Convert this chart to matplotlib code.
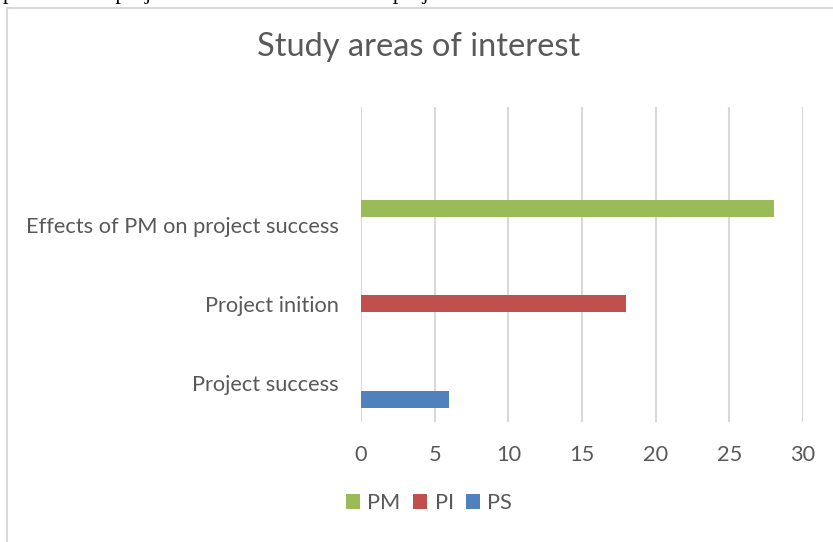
import matplotlib
matplotlib.use("Agg")
import matplotlib.pyplot as plt
from matplotlib.patches import Rectangle
import numpy as np

# categories bottom -> top (top slot is empty in the source chart)
categories = ["Project success", "Project inition", "Effects of PM on project success", ""]
series_names = ["PS", "PI", "PM"]
ps_values = [6, 0, 0, 0]
pi_values = [0, 18, 0, 0]
pm_values = [0, 0, 28, 0]
colors = ["#4F81BD", "#C0504D", "#9BBB59"]
x_ticks = [0, 5, 10, 15, 20, 25, 30]

W, H = 833, 542
fig = plt.figure(figsize=(W / 100, H / 100), dpi=100)
font = ["Lato", "DejaVu Sans"]
txt = "#595959"

# chart frame (extends past the right and bottom edges)
fig.patches.append(Rectangle((7 / W, -0.05), 1.1, 1 - 8 / H + 0.05, transform=fig.transFigure,
                             fill=False, edgecolor="#d9d9d9", linewidth=1.5))

# cut-off line of body text above the chart
fig.text(3 / W, 1 + 1.5 / H, "practices on project success in construction projects.",
         family="Liberation Serif", fontsize=16, color="black", va="baseline", ha="left")

ax = fig.add_axes([361 / W, 1 - 422 / H, (803 - 361) / W, (422 - 107) / H])

y = np.arange(len(categories))
h = 0.216
all_vals = [ps_values, pi_values, pm_values]
for i, (vals, name, c) in enumerate(zip(all_vals, series_names, colors)):
    ax.barh(y + (i - 1) * h, vals, height=h, color=c, label=name, zorder=3)

ax.set_xlim(0, 30)
ax.set_ylim(-0.5, len(categories) - 0.5)
ax.set_xticks(x_ticks)
ax.set_yticks(y)
ax.set_yticklabels(categories)
ax.xaxis.grid(True, color="#d9d9d9", linewidth=1.5, zorder=0)
ax.tick_params(length=0, labelsize=15.7, labelcolor=txt)
for lab in ax.get_xticklabels() + ax.get_yticklabels():
    lab.set_family(font)
ax.tick_params(axis="y", pad=16)
ax.tick_params(axis="x", pad=16.5)
for s in ax.spines.values():
    s.set_visible(False)

fig.text(419 / W, 1 - 47 / H, "Study areas of interest", family=font, fontsize=23.5,
         color=txt, ha="center", va="center")

handles, labels = ax.get_legend_handles_labels()
leg = fig.legend(handles[::-1], labels[::-1], loc="center", bbox_to_anchor=(429 / W, 1 - 503 / H),
                 ncol=3, frameon=False, prop={"family": font, "size": 15.7},
                 handlelength=0.65, handleheight=0.65, handletextpad=0.35, columnspacing=0.55)
for t in leg.get_texts():
    t.set_color(txt)

fig.savefig("out.png", dpi=100)
